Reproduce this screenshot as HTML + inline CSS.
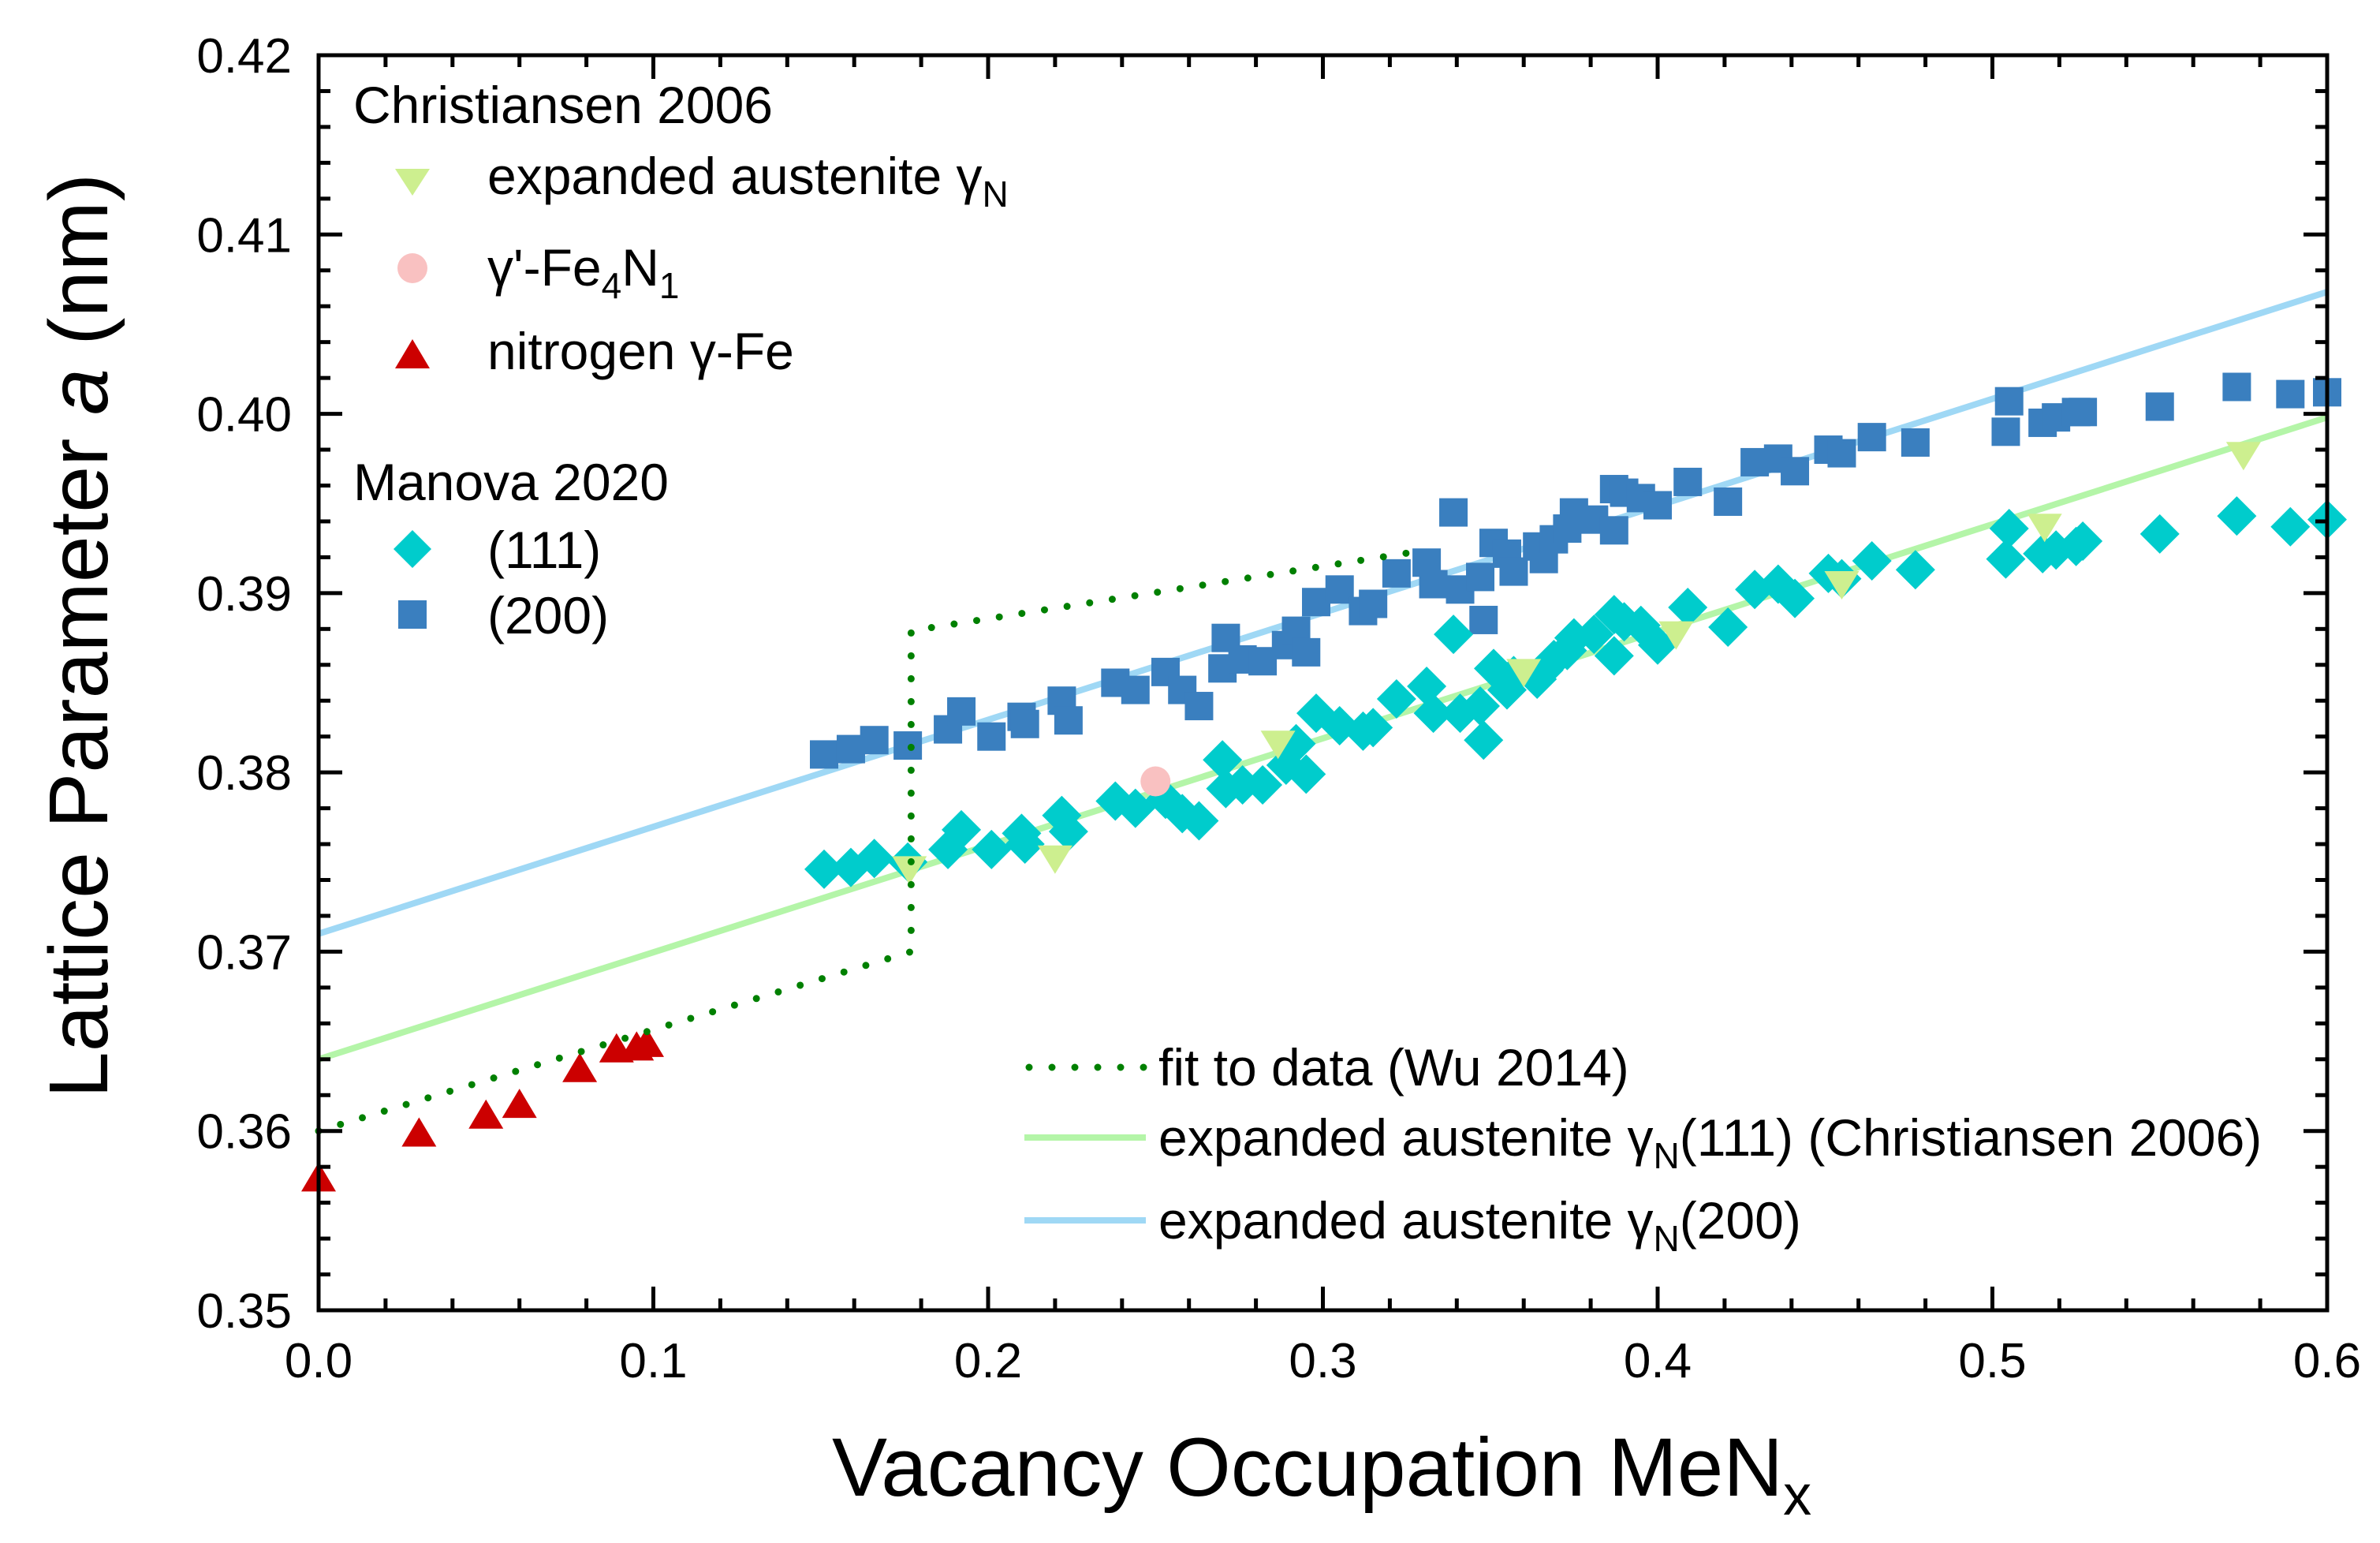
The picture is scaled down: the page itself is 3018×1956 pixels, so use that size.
<!DOCTYPE html>
<html><head><meta charset="utf-8"><style>
html,body{margin:0;padding:0;background:#fff;}
svg{display:block;font-family:"Liberation Sans",Arial,sans-serif;}
</style></head><body>
<svg id="chart" width="3018" height="1956" viewBox="0 0 3018 1956" xmlns="http://www.w3.org/2000/svg">
<g id="marks"></g>
<g id="axes"></g>
<text transform="translate(136,806) rotate(-90)" text-anchor="middle" font-size="106">Lattice Parameter <tspan font-style="italic">a</tspan> (nm)</text>
<text x="1055" y="1896" font-size="105">Vacancy Occupation MeN<tspan font-size="72" dy="24">x</tspan></text>
<g font-size="66">
<text x="448" y="156">Christiansen 2006</text>
<polygon points="501,214 545,214 523,248" fill="#cdef8f"/>
<text x="618" y="246">expanded austenite γ<tspan font-size="46" dy="16">N</tspan></text>
<circle cx="523" cy="340" r="19" fill="#f9c1c1"/>
<text x="618" y="362">γ'-Fe<tspan font-size="46" dy="16">4</tspan><tspan dy="-16">N</tspan><tspan font-size="46" dy="16">1</tspan></text>
<polygon points="501,467 545,467 523,430" fill="#cc0000"/>
<text x="618" y="468">nitrogen γ-Fe</text>
<text x="448" y="634">Manova 2020</text>
<polygon points="523,672 547,696 523,720 499,696" fill="#00cccc"/>
<text x="618" y="720">(111)</text>
<rect x="505" y="761" width="36" height="36" fill="#3a7fbf"/>
<text x="618" y="803">(200)</text>
</g>
<g font-size="66">
<line x1="1305" y1="1353" x2="1453" y2="1353" stroke="#008000" stroke-width="9" stroke-linecap="round" stroke-dasharray="0 29"/>
<text x="1469" y="1376">fit to data (Wu 2014)</text>
<line x1="1299" y1="1442" x2="1453" y2="1442" stroke="#b4f5a8" stroke-width="8"/>
<text x="1469" y="1465">expanded austenite γ<tspan font-size="46" dy="16">N</tspan><tspan dy="-16">(111) (Christiansen 2006)</tspan></text>
<line x1="1299" y1="1547" x2="1453" y2="1547" stroke="#9fd8f5" stroke-width="8"/>
<text x="1469" y="1570">expanded austenite γ<tspan font-size="46" dy="16">N</tspan><tspan dy="-16">(200)</tspan></text>
</g>
</svg>
<script>
const xTicks=[0.0,0.1,0.2,0.3,0.4,0.5,0.6];
const xTickLabels=["0.0","0.1","0.2","0.3","0.4","0.5","0.6"];
const yTicks=[0.35,0.36,0.37,0.38,0.39,0.40,0.41,0.42];
const yTickLabels=["0.35","0.36","0.37","0.38","0.39","0.40","0.41","0.42"];
const nitrogenX=[0,0.030,0.050,0.060,0.078,0.089,0.095,0.098];
const nitrogenY=[0.3572,0.3597,0.3607,0.3613,0.3633,0.3644,0.3645,0.3647];
const fe4nX=[0.250];
const fe4nY=[0.3795];
const expandedX=[0.1765,0.220,0.2866,0.360,0.4055,0.455,0.5156,0.575];
const expandedY=[0.3748,0.3754,0.3818,0.3858,0.3879,0.3907,0.3939,0.3979];
const manovaX=[0.151,0.159,0.166,0.176,0.188,0.192,0.201,0.210,0.211,0.222,0.224,0.238,0.244,0.253,0.258,0.263,0.270,0.271,0.276,0.282,0.289,0.292,0.295,0.298,0.305,0.312,0.315,0.322,0.331,0.333,0.339,0.341,0.347,0.348,0.351,0.355,0.357,0.364,0.366,0.369,0.373,0.375,0.381,0.387,0.390,0.387,0.395,0.400,0.409,0.421,0.429,0.436,0.441,0.451,0.455,0.464,0.477,0.504,0.505,0.515,0.519,0.525,0.527,0.550,0.573,0.589,0.600];
const y200=[0.3810,0.3813,0.3818,0.3815,0.3824,0.3834,0.3820,0.3831,0.3827,0.3840,0.3829,0.3850,0.3846,0.3856,0.3846,0.3837,0.3858,0.3875,0.3863,0.3862,0.3871,0.3879,0.3867,0.3895,0.3902,0.3890,0.3894,0.3911,0.3917,0.3905,0.3945,0.3902,0.3909,0.3885,0.3928,0.3922,0.3912,0.3926,0.3919,0.3930,0.3936,0.3945,0.3941,0.3958,0.3956,0.3935,0.3953,0.3949,0.3962,0.3951,0.3973,0.3975,0.3968,0.3980,0.3978,0.3987,0.3984,0.3990,0.4007,0.3995,0.3998,0.4001,0.4001,0.4004,0.4015,0.4011,0.4012];
const y111=[0.3746,0.3747,0.3752,0.3750,0.3757,0.3768,0.3757,0.3766,0.3760,0.3776,0.3767,0.3784,0.3780,0.3785,0.3777,0.3773,0.3807,0.3791,0.3793,0.3793,0.3804,0.3816,0.3799,0.3833,0.3826,0.3823,0.3825,0.3841,0.3848,0.3833,0.3877,0.3833,0.3837,0.3818,0.3858,0.3846,0.3854,0.3852,0.3857,0.3863,0.3868,0.3875,0.3877,0.3888,0.3884,0.3865,0.3882,0.3871,0.3892,0.3881,0.3902,0.3905,0.3897,0.3911,0.3908,0.3918,0.3913,0.3919,0.3936,0.3922,0.3924,0.3926,0.3929,0.3933,0.3943,0.3937,0.3941];
const fit111X=[0,0.6], fit111Y=[0.364,0.3998];
const fit200X=[0,0.6], fit200Y=[0.371,0.4068];
const wuX=[0,0.177,0.177,0.3275], wuY=[0.360,0.370,0.3879,0.3923];

const X0=404,X1=2951,Y0=1661,Y1=70;
const sx=v=>X0+(v-0)/(0.6-0)*(X1-X0);
const sy=v=>Y0-(v-0.35)/(0.42-0.35)*(Y0-Y1);
const NS="http://www.w3.org/2000/svg";
const marks=document.getElementById('marks');
const axes=document.getElementById('axes');
function mk(tag,attrs,parent){const e=document.createElementNS(NS,tag);for(const k in attrs)e.setAttribute(k,attrs[k]);parent.appendChild(e);return e;}

let l=mk('line',{x1:sx(fit200X[0]),y1:sy(fit200Y[0]),x2:sx(fit200X[1]),y2:sy(fit200Y[1]),stroke:'#9fd8f5','stroke-width':8},marks);


l=mk('line',{x1:sx(fit111X[0]),y1:sy(fit111Y[0]),x2:sx(fit111X[1]),y2:sy(fit111Y[1]),stroke:'#b4f5a8','stroke-width':8},marks);



manovaX.forEach((x,i)=>{const s=36;const r=mk('rect',{x:sx(x)-s/2,y:sy(y200[i])-s/2,width:s,height:s,fill:'#3a7fbf'},marks);

});
manovaX.forEach((x,i)=>{const cx=sx(x),cy=sy(y111[i]),d=25;const p=mk('polygon',{points:`${cx},${cy-d} ${cx+d},${cy} ${cx},${cy+d} ${cx-d},${cy}`,fill:'#00cccc'},marks);

});
expandedX.forEach((x,i)=>{const cx=sx(x),cy=sy(expandedY[i]);const p=mk('polygon',{points:`${cx-22},${cy-12} ${cx+22},${cy-12} ${cx},${cy+24}`,fill:'#cdef8f'},marks);

});
fe4nX.forEach((x,i)=>{const c=mk('circle',{cx:sx(x),cy:sy(fe4nY[i]),r:19,fill:'#f9c1c1'},marks);

});
nitrogenX.forEach((x,i)=>{const cx=sx(x),cy=sy(nitrogenY[i]);const p=mk('polygon',{points:`${cx-22},${cy+13} ${cx+22},${cy+13} ${cx},${cy-24}`,fill:'#cc0000'},marks);

});
const wp=mk('polyline',{points:wuX.map((x,i)=>sx(x)+','+sy(wuY[i])).join(' '),fill:'none',stroke:'#008000','stroke-width':9,'stroke-linecap':'round','stroke-dasharray':'0 29'},marks);



const fr=mk('rect',{x:X0,y:Y1,width:X1-X0,height:Y0-Y1,fill:'none',stroke:'#000','stroke-width':5},axes);


for(let k=0;k<=30;k++){const v=k*0.02;const x=sx(v);const major=(k%5===0);const len=major?30:15;
 const t1=mk('line',{x1:x,y1:Y0,x2:x,y2:Y0-len,stroke:'#000','stroke-width':5},axes);
 
 
 const t2=mk('line',{x1:x,y1:Y1,x2:x,y2:Y1+len,stroke:'#000','stroke-width':5},axes);
 
 }
for(let k=0;k<=35;k++){const v=0.35+k*0.002;const y=sy(v);const major=(k%5===0);const len=major?30:15;
 const t1=mk('line',{x1:X0,y1:y,x2:X0+len,y2:y,stroke:'#000','stroke-width':5},axes);
 
 
 const t2=mk('line',{x1:X1,y1:y,x2:X1-len,y2:y,stroke:'#000','stroke-width':5},axes);
 
 }
xTicks.forEach((v,i)=>{const t=mk('text',{x:sx(v),y:1746,'text-anchor':'middle','font-size':62},axes);t.textContent=xTickLabels[i];

});
yTicks.forEach((v,i)=>{const t=mk('text',{x:370,y:sy(v)+22,'text-anchor':'end','font-size':62},axes);t.textContent=yTickLabels[i];

});
</script>
</body></html>
